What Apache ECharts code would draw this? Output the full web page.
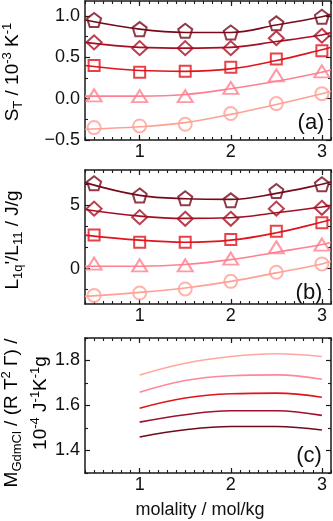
<!DOCTYPE html>
<html>
<head>
<meta charset="utf-8">
<script src="https://cdn.jsdelivr.net/npm/echarts@6/dist/echarts.min.js"></script>
<style>
  html, body { margin: 0; padding: 0; background: #fff; }
  #chart { width: 333px; height: 521px; }
</style>
</head>
<body>
<div id="chart"></div>
<script>
// molality positions of measured points and of the fitted curves
const xPts = [0.5, 1, 1.5, 2, 2.5, 3];
const xFit = [0.4, 1, 1.5, 2, 2.5, 3, 3.1];
const xCalc = [1, 1.5, 2, 2.5, 3];

// (a) Soret coefficient S_T, 10^-3 K^-1
const stPent = [0.95, 0.84, 0.82, 0.80, 0.91, 0.99];
const stDiam = [0.68, 0.61, 0.61, 0.61, 0.73, 0.76];
const stSq   = [0.40, 0.32, 0.33, 0.38, 0.48, 0.58];
const stTri  = [0.04, 0.03, 0.03, 0.13, 0.28, 0.33];
const stCirc = [-0.35, -0.33, -0.31, -0.18, -0.06, 0.06];
const stFitPent = [0.95, 0.84, 0.80, 0.80, 0.89, 0.99, 1.02];
const stFitDiam = [0.68, 0.62, 0.61, 0.62, 0.69, 0.77, 0.80];
const stFitSq   = [0.40, 0.34, 0.33, 0.36, 0.46, 0.59, 0.62];
const stFitTri  = [0.03, 0.03, 0.05, 0.12, 0.21, 0.32, 0.35];
const stFitCirc = [-0.37, -0.34, -0.29, -0.19, -0.07, 0.06, 0.09];

// (b) L1q'/L11, J/g
const lPent = [6.75, 5.79, 5.56, 5.40, 6.14, 6.67];
const lDiam = [4.74, 4.07, 3.94, 3.94, 4.74, 4.81];
const lSq   = [2.65, 2.09, 2.09, 2.30, 2.96, 3.62];
const lTri  = [0.40, 0.26, 0.26, 0.79, 1.69, 1.90];
const lCirc = [-2.12, -1.93, -1.61, -1.01, -0.29, 0.37];
const lFitPent = [6.80, 5.79, 5.53, 5.48, 5.95, 6.67, 6.85];
const lFitDiam = [4.68, 4.15, 3.97, 4.02, 4.42, 4.87, 5.00];
const lFitSq   = [2.65, 2.25, 2.09, 2.25, 2.83, 3.68, 3.89];
const lFitTri  = [0.19, 0.19, 0.32, 0.71, 1.30, 1.90, 2.09];
const lFitCirc = [-2.20, -1.88, -1.53, -1.01, -0.34, 0.37, 0.58];

// (c) M_GdmCl / (R T^2 Γ), 10^-4 J^-1 K^-1 g
const mCirc = [1.736, 1.788, 1.818, 1.830, 1.818];
const mTri  = [1.659, 1.711, 1.732, 1.736, 1.717];
const mSq   = [1.588, 1.633, 1.652, 1.655, 1.637];
const mDiam = [1.526, 1.559, 1.577, 1.577, 1.556];
const mPent = [1.460, 1.492, 1.507, 1.507, 1.491];

// tick values
const xMajor = [1, 2, 3];
const aMajor = [-0.5, 0, 0.5, 1.0];
const aMinor = [-0.25, 0.25, 0.75];
const bMajor = [0, 5];
const bMinor = [-5 / 3, 5 / 3, 10 / 3, 20 / 3];
const cMajor = [1.4, 1.6, 1.8];
const cMinor = [1.3, 1.5, 1.7, 1.9];
const xMinor = [];
for (let v = 4; v <= 31; v++) xMinor.push(v / 10);

const FONT = '"Liberation Sans", Arial, sans-serif';
const AX = '#1a1a1a';
const C_PENT = '#760a1a';
const C_DIAM = '#a50f24';
const C_SQ = '#e0141c';
const C_TRI = '#ff8090';
const C_CIRC = '#ffa095';
const PENTAGON = 'path://M50,0 L97.55,34.55 L79.39,90.45 L20.61,90.45 L2.45,34.55 Z';

const grids = [
  { left: 85, width: 246, top: 1, height: 139 },
  { left: 85, width: 246, top: 170, height: 134 },
  { left: 85, width: 246, top: 338, height: 135 }
];
const yRange = [[-0.5, 1.18], [-2.8, 7.8], [1.3, 1.9]];
const yTicks = [[aMajor, aMinor], [bMajor, bMinor], [cMajor, cMinor]];
const yFmt = [
  v => (v < 0 ? '\u2212' : '') + Math.abs(v).toFixed(1),
  v => String(v),
  v => v.toFixed(1)
];

function axes(g, pos, min, max, major, minor, fmt) {
  const base = {
    type: 'value', gridIndex: g, position: pos, min: min, max: max,
    splitLine: { show: false }
  };
  const main = Object.assign({}, base, {
    axisLine: { show: true, onZero: false, lineStyle: { color: AX, width: 1.5 } },
    axisTick: { show: true, inside: true, length: 5, customValues: major, lineStyle: { color: AX, width: 1.2 } },
    axisLabel: fmt ? {
      show: true, customValues: major, formatter: fmt, margin: pos === 'left' ? 5 : 3,
      fontSize: 18, color: '#111', fontFamily: FONT
    } : { show: false }
  });
  const sub = Object.assign({}, base, {
    axisLine: { show: false, onZero: false },
    axisTick: { show: true, inside: true, length: 3, customValues: minor, lineStyle: { color: AX, width: 1.1 } },
    axisLabel: { show: false }
  });
  return [main, sub];
}

const xAxis = [];
const yAxis = [];
for (let g = 0; g < 3; g++) {
  xAxis.push(...axes(g, 'bottom', 0.4, 3.1, xMajor, xMinor, v => String(v)));
  xAxis.push(...axes(g, 'top', 0.4, 3.1, xMajor, xMinor, null));
  yAxis.push(...axes(g, 'left', yRange[g][0], yRange[g][1], yTicks[g][0], yTicks[g][1], yFmt[g]));
  yAxis.push(...axes(g, 'right', yRange[g][0], yRange[g][1], yTicks[g][0], yTicks[g][1], null));
}

function pts(xs, ys) { return xs.map((x, i) => [x, ys[i]]); }
function marks(g, ys, sym, size, color) {
  return {
    type: 'scatter', xAxisIndex: 4 * g, yAxisIndex: 4 * g, data: pts(xPts, ys),
    symbol: sym, symbolSize: size, z: 4,
    itemStyle: { color: 'rgba(255,255,255,0)', borderColor: color, borderWidth: 2 }
  };
}
function curve(g, xs, ys, color) {
  return {
    type: 'line', xAxisIndex: 4 * g, yAxisIndex: 4 * g, data: pts(xs, ys),
    smooth: 0.4, symbol: 'none', z: 3,
    lineStyle: { color: color, width: 1.6 }
  };
}

const series = [
  curve(0, xFit, stFitPent, C_PENT), curve(0, xFit, stFitDiam, C_DIAM),
  curve(0, xFit, stFitSq, C_SQ), curve(0, xFit, stFitTri, C_TRI), curve(0, xFit, stFitCirc, C_CIRC),
  marks(0, stPent, PENTAGON, 14, C_PENT), marks(0, stDiam, 'diamond', [15, 14], C_DIAM),
  marks(0, stSq, 'rect', 11, C_SQ), marks(0, stTri, 'triangle', [15, 12], C_TRI),
  marks(0, stCirc, 'circle', 13, C_CIRC),

  curve(1, xFit, lFitPent, C_PENT), curve(1, xFit, lFitDiam, C_DIAM),
  curve(1, xFit, lFitSq, C_SQ), curve(1, xFit, lFitTri, C_TRI), curve(1, xFit, lFitCirc, C_CIRC),
  marks(1, lPent, PENTAGON, 14, C_PENT), marks(1, lDiam, 'diamond', [15, 14], C_DIAM),
  marks(1, lSq, 'rect', 11, C_SQ), marks(1, lTri, 'triangle', [15, 12], C_TRI),
  marks(1, lCirc, 'circle', 13, C_CIRC),

  curve(2, xCalc, mCirc, '#ffa8a0'), curve(2, xCalc, mTri, '#ff8797'),
  curve(2, xCalc, mSq, '#e0141c'), curve(2, xCalc, mDiam, '#a01030'),
  curve(2, xCalc, mPent, '#6e0a1e')
];

const rich = {
  m: { fontSize: 19, fontFamily: FONT, color: '#111', lineHeight: 24 },
  sub: { fontSize: 13, fontFamily: FONT, color: '#111', verticalAlign: 'bottom', lineHeight: 13 },
  sup: { fontSize: 13, fontFamily: FONT, color: '#111', verticalAlign: 'top', lineHeight: 13 }
};
function vtext(x, y, text) {
  return {
    type: 'text', x: x, y: y, rotation: Math.PI / 2,
    style: { text: text, rich: rich, align: 'center', verticalAlign: 'middle' }
  };
}
function htext(x, y, text, size) {
  return {
    type: 'text', x: x, y: y,
    style: { text: text, fontSize: size, fontFamily: FONT, fill: '#111', align: 'center', verticalAlign: 'middle' }
  };
}

const chart = echarts.init(document.getElementById('chart'));
chart.setOption({
  animation: false,
  backgroundColor: '#fff',
  grid: grids,
  xAxis: xAxis,
  yAxis: yAxis,
  series: series,
  graphic: [
    vtext(13, 72, '{m|S}{sub|T}{m| / 10}{sup|-3}{m| K}{sup|-1}'),
    vtext(13, 240, "{m|L}{sub|1q}{m|'/L}{sub|11}{m| / J/g}"),
    vtext(12, 413, '{m|M}{sub|GdmCl}{m| / (R T}{sup|2}{m| \u0393) /}'),
    vtext(41, 403, '{m|10}{sup|-4}{m| J}{sup|-1}{m|K}{sup|-1}{m|g}'),
    htext(311, 123, '(a)', 22),
    htext(309, 293, '(b)', 22),
    htext(309, 456, '(c)', 22),
    htext(200, 510, 'molality / mol/kg', 18)
  ]
});
</script>
</body>
</html>
